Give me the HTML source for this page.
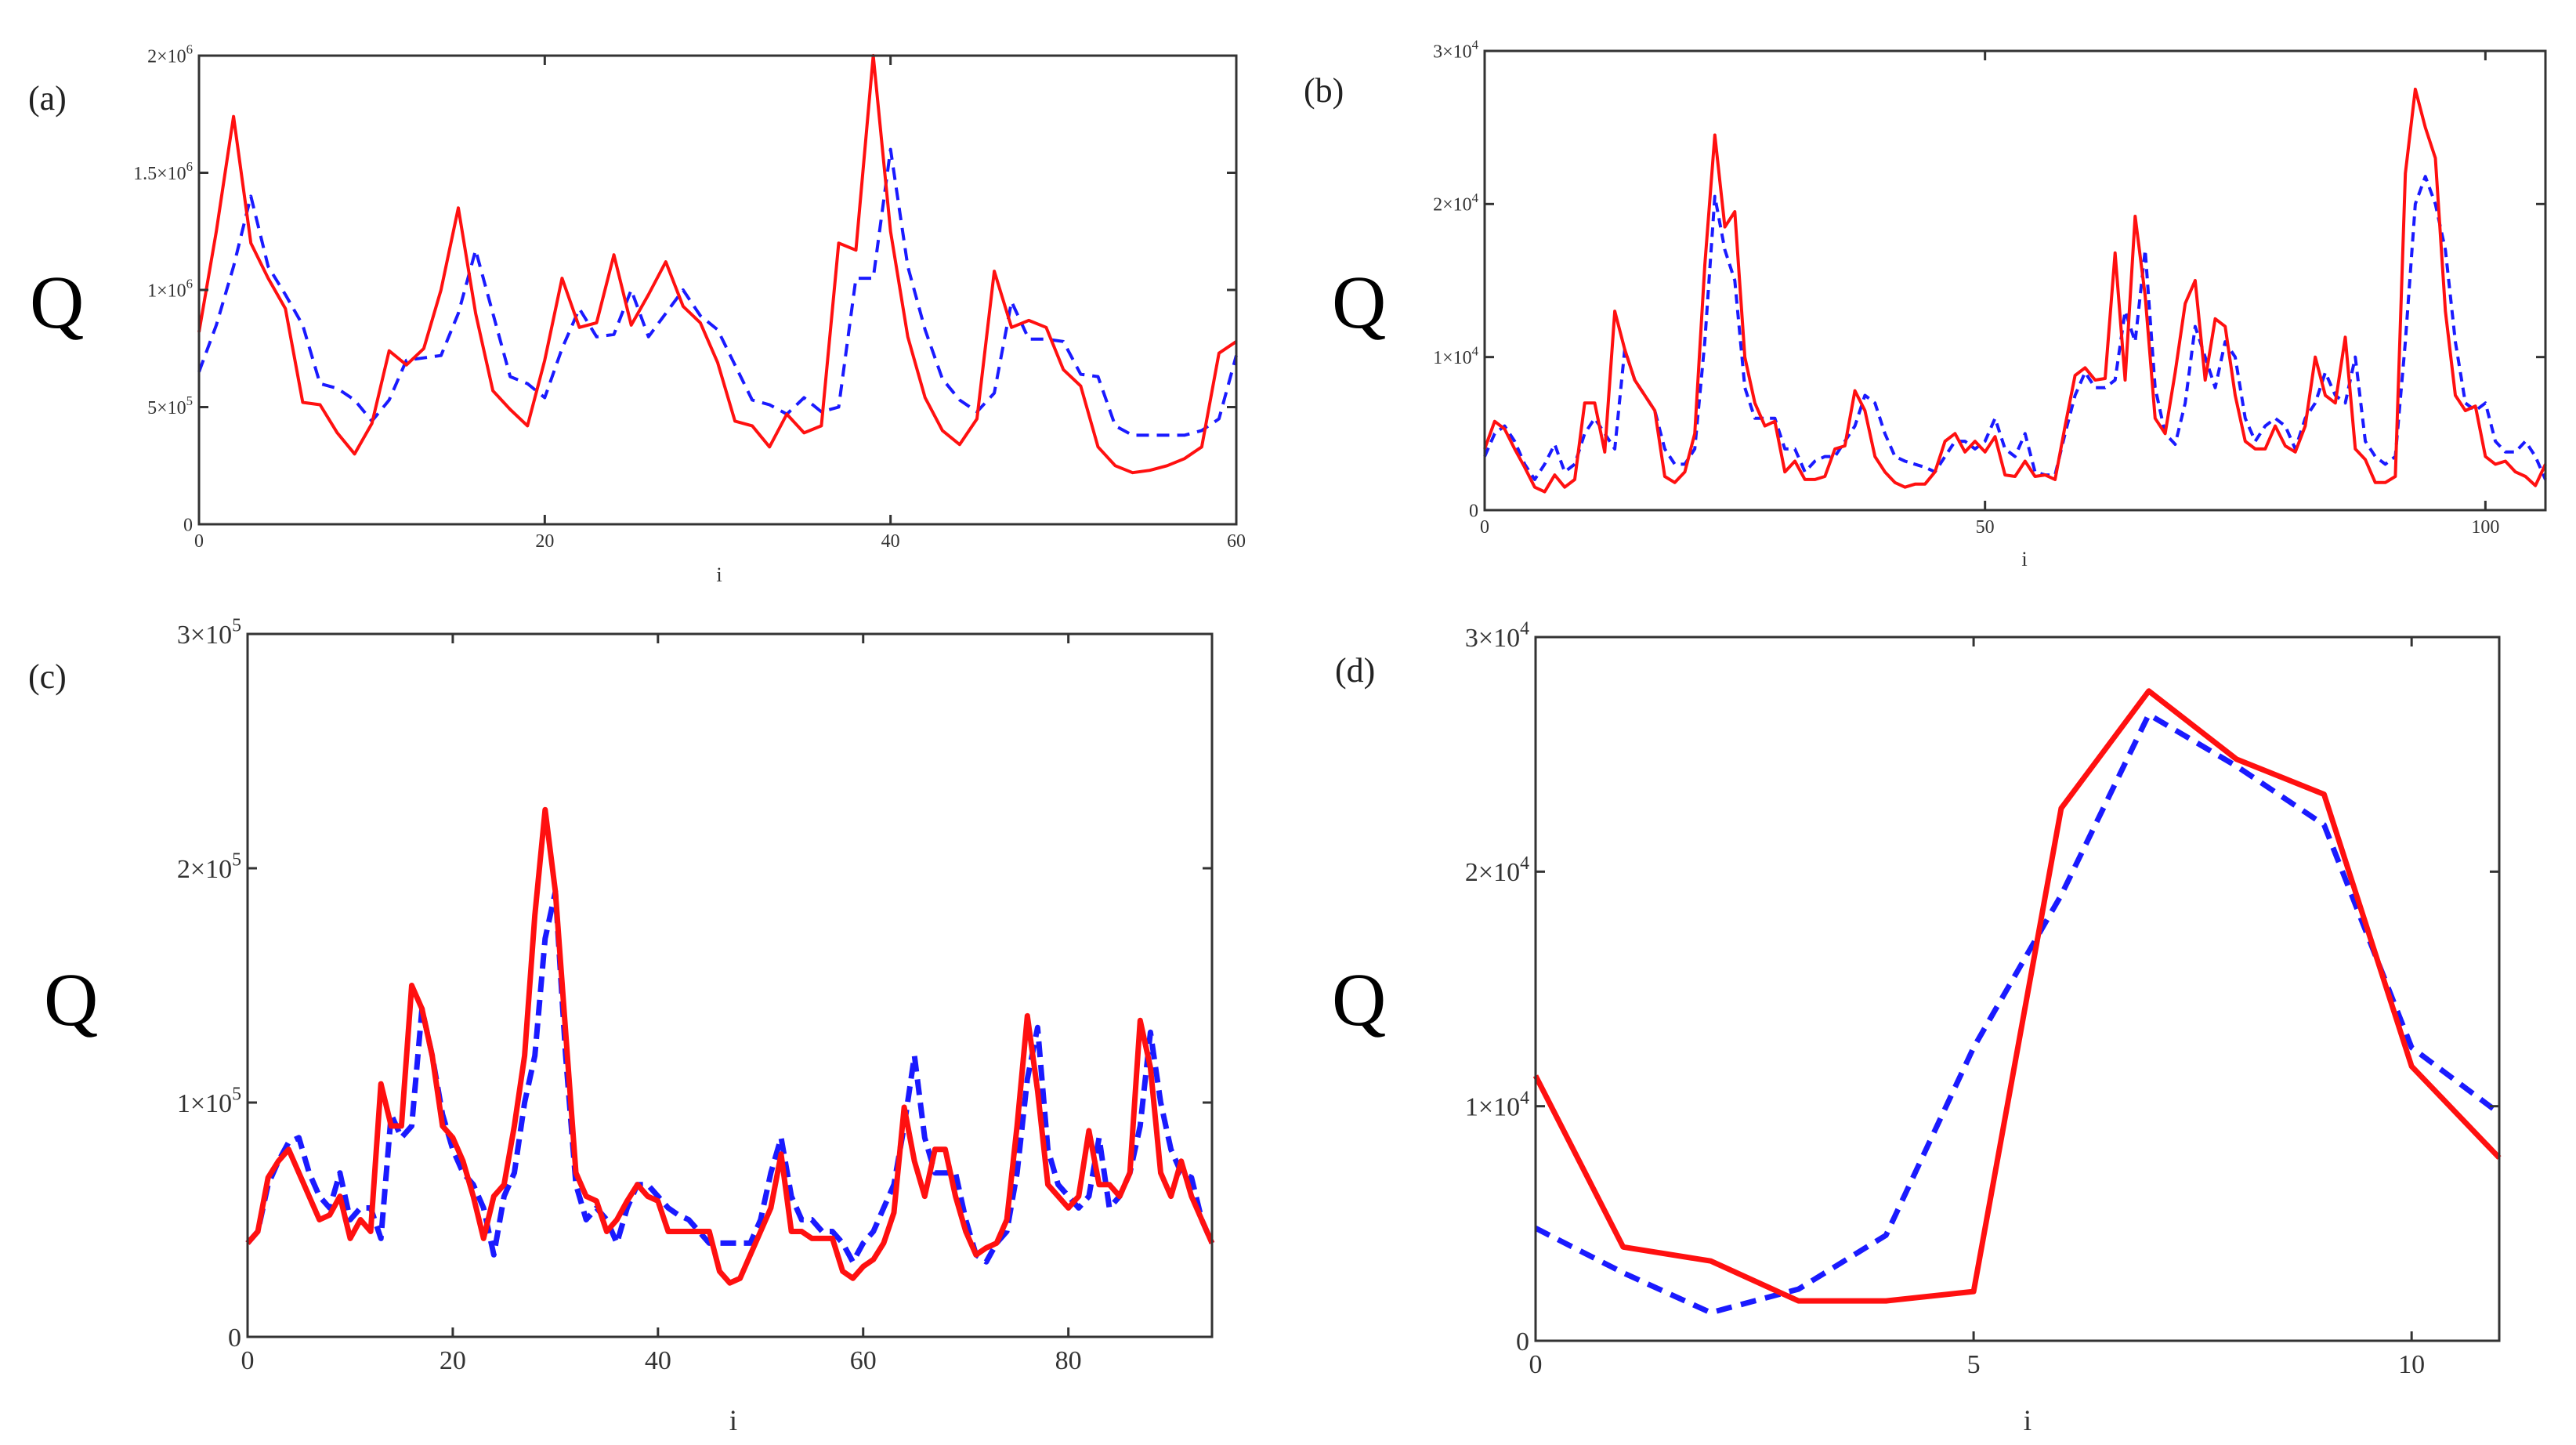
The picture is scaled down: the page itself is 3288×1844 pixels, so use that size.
<!DOCTYPE html>
<html><head><meta charset="utf-8"><style>
html,body{margin:0;padding:0;background:#fff;}
svg{display:block;font-family:"Liberation Serif",serif;}
</style></head><body>
<svg id="fig" width="3288" height="1844" viewBox="0 0 3288 1844" xmlns="http://www.w3.org/2000/svg"></svg>
<script>
// ---- Panel (a) data (x1e5) ----
const aRed = [8.2,12.5,17.4,12,10.5,9.2,5.2,5.1,3.9,3.0,4.3,7.4,6.8,7.5,10,13.5,9,5.7,4.9,4.2,7,10.5,8.4,8.6,11.5,8.5,9.8,11.2,9.3,8.6,6.9,4.4,4.2,3.3,4.7,3.9,4.2,12,11.7,20,12.5,8,5.4,4,3.4,4.5,10.8,8.4,8.7,8.4,6.6,5.9,3.3,2.5,2.2,2.3,2.5,2.8,3.3,7.3,7.8];
const aBlue = [6.5,8.5,11,14,11,9.8,8.5,6,5.8,5.3,4.4,5.3,7,7.1,7.2,9,11.7,9,6.3,6,5.4,7.5,9.2,8,8.1,10,8,9,10,8.9,8.3,6.8,5.3,5.1,4.7,5.4,4.8,5,10.5,10.5,16,11,8.3,6.2,5.3,4.8,5.6,9.5,7.9,7.9,7.8,6.4,6.3,4.2,3.8,3.8,3.8,3.8,4,4.5,7.2];
const aYTicks = [0,5,10,15,20];
const aYLabels = [["0",""],["5×10","5"],["1×10","6"],["1.5×10","6"],["2×10","6"]];
const aXTicks = [0,20,40,60];
// ---- Panel (b) data (x1e3) ----
const bRed = [4,5.8,5.3,4,2.8,1.5,1.2,2.3,1.5,2,7,7,3.8,13,10.5,8.5,7.5,6.5,2.2,1.8,2.5,5,16,24.5,18.5,19.5,10,7,5.5,5.8,2.5,3.2,2,2,2.2,4,4.2,7.8,6.5,3.5,2.5,1.8,1.5,1.7,1.7,2.5,4.5,5,3.8,4.5,3.8,4.8,2.3,2.2,3.2,2.2,2.3,2,5.5,8.8,9.3,8.5,8.6,16.8,8.5,19.2,14,6,5,9,13.5,15,8.5,12.5,12,7.5,4.5,4,4,5.5,4.2,3.8,5.5,10,7.5,7,11.3,4,3.3,1.8,1.8,2.2,22,27.5,25,23,13,7.5,6.5,6.8,3.5,3,3.2,2.5,2.2,1.6,3];
const bBlue = [3.5,5,5.5,4.5,3,2,3,4.3,2.5,3,5,6,5,4,10.5,8.5,7.5,6.5,4,3,3,4,11,20.5,17,15,8,6,6,6,4,4,2.5,3.2,3.5,3.5,4.5,5.5,7.5,7,5,3.5,3.2,3,2.8,2.5,3.5,4.5,4.5,4,4.5,6,4,3.5,5,2.5,2.3,2.3,5,7.5,9,8,8,8.5,13,11,17,8,5,4.3,7,12,10,8,11,10,6,4.5,5.5,6,5.5,4,6,7,9,7.5,7,10,4.5,3.5,3,3.5,11,20,21.8,20,17,11,7,6.5,7,4.5,3.8,3.8,4.5,3.5,2];
const bYTicks = [0,10,20,30];
const bYLabels = [["0",""],["1×10","4"],["2×10","4"],["3×10","4"]];
const bXTicks = [0,50,100];
// ---- Panel (c) data (x1e4) ----
const cRed = [4,4.5,6.8,7.5,8,7,6,5,5.2,6,4.2,5,4.5,10.8,9,9,15,14,12,9,8.5,7.5,6,4.2,6,6.5,9,12,18,22.5,19,13,7,6,5.8,4.5,5,5.8,6.5,6,5.8,4.5,4.5,4.5,4.5,4.5,2.8,2.3,2.5,3.5,4.5,5.5,7.8,4.5,4.5,4.2,4.2,4.2,2.8,2.5,3,3.3,4,5.3,9.8,7.5,6,8,8,6,4.5,3.5,3.8,4,5,9,13.7,10.5,6.5,6,5.5,6,8.8,6.5,6.5,6,7,13.5,11.5,7,6,7.5,6,5,4];
const cBlue = [4,4.5,6.5,7.5,8.3,8.5,7,6,5.5,7,5,5.5,5.5,4.2,9.5,8.5,9,14,12,9.5,8,7,6.5,5.5,3.5,6,7,10,12,17,19,12,6.5,5,5.5,5,4,5.5,6.5,6.5,6,5.5,5.2,5,4.5,4,4,4,4,4,5,7,8.5,6,5,5,4.5,4.5,4,3.2,4,4.5,5.5,6.5,9,12,8.5,7,7,7,5,3.5,3.2,4,4.5,7,11,13.2,8,6.5,6,5.5,6,8.5,5.5,6,7,9,13,10,8,7,6.8,5,4];
const cYTicks = [0,10,20,30];
const cYLabels = [["0",""],["1×10","5"],["2×10","5"],["3×10","5"]];
const cXTicks = [0,20,40,60,80];
// ---- Panel (d) data (x1e3) ----
const dRed = [11.3,4,3.4,1.7,1.7,2.1,22.7,27.7,24.8,23.3,11.7,7.8];
const dBlue = [4.8,2.9,1.2,2.2,4.5,12.5,19,26.7,24.5,22,12.5,9.7];
const dYTicks = [0,10,20,30];
const dYLabels = [["0",""],["1×10","4"],["2×10","4"],["3×10","4"]];
const dXTicks = [0,5,10];

const NS = "http://www.w3.org/2000/svg";
const svg = document.getElementById("fig");
function mk(tag, attrs, parent){
  const e = document.createElementNS(NS, tag);
  for (const k in attrs) e.setAttribute(k, attrs[k]);
  (parent||svg).appendChild(e);
  return e;
}

function panel(id, box, xmax, ymax, red, blue, yTicks, yLabels, xTicks, opt){
  const g = mk("g", {});
  
  
  const xs = v => box.l + (v / xmax) * (box.r - box.l);
  const ys = v => box.b - (v / ymax) * (box.b - box.t);
  // series
  const pts = arr => arr.map((v,i)=>xs(i).toFixed(1)+","+ys(v).toFixed(1)).join(" ");
  const bl = mk("polyline", {points: pts(blue), fill:"none", stroke:"#1a1aff", "stroke-width":opt.bw, "stroke-dasharray":opt.dash, "stroke-linejoin":"round"}, g);
  
  
  const rl = mk("polyline", {points: pts(red), fill:"none", stroke:"#ff1010", "stroke-width":opt.rw, "stroke-linejoin":"round"}, g);
  
  
  // frame
  const fr = mk("rect", {x:box.l, y:box.t, width:box.r-box.l, height:box.b-box.t, fill:"none", stroke:"#333", "stroke-width":3}, g);
  
  
  // y ticks
  yTicks.forEach((t,k)=>{
    const y = ys(t);
    mk("line",{x1:box.l,y1:y,x2:box.l+12,y2:y,stroke:"#333","stroke-width":3},g);
    mk("line",{x1:box.r,y1:y,x2:box.r-12,y2:y,stroke:"#333","stroke-width":3},g);
    const tx = mk("text",{x:box.l-8,y:y+opt.fs*0.35,"text-anchor":"end","font-size":opt.fs,fill:"#333"},g);
    
    
    tx.textContent = yLabels[k][0];
    if (yLabels[k][1]) {
      const sp = mk("tspan",{dy:-opt.fs*0.45,"font-size":opt.fs*0.7},tx);
      sp.textContent = yLabels[k][1];
    }
  });
  // x ticks
  xTicks.forEach(t=>{
    const x = xs(t);
    mk("line",{x1:x,y1:box.b,x2:x,y2:box.b-12,stroke:"#333","stroke-width":3},g);
    mk("line",{x1:x,y1:box.t,x2:x,y2:box.t+12,stroke:"#333","stroke-width":3},g);
    const tx = mk("text",{x:x,y:box.b+opt.fs*1.2,"text-anchor":"middle","font-size":opt.fs,fill:"#333"},g);
    
    
    tx.textContent = String(t);
  });
  // labels
  const pl = mk("text",{x:opt.lab[0],y:opt.lab[1],"font-size":44,fill:"#222"},g);
  
  
  pl.textContent = "(" + id + ")";
  const q = mk("text",{x:opt.q[0],y:opt.q[1],"font-size":96,fill:"#000"},g);
  
  
  q.textContent = "Q";
  const xi = mk("text",{x:opt.i[0],y:opt.i[1],"font-size":opt.fs*1.1,"text-anchor":"middle",fill:"#333"},g);
  
  
  xi.textContent = "i";
}

panel("a",{l:254,r:1578,t:71,b:669},60,20,aRed,aBlue,aYTicks,aYLabels,aXTicks,
  {rw:4,bw:4,dash:"16,10",fs:24,lab:[36,140],q:[38,418],i:[918,742]});
panel("b",{l:1895,r:3249,t:65,b:651},106,30,bRed,bBlue,bYTicks,bYLabels,bXTicks,
  {rw:4,bw:4,dash:"12,8",fs:24,lab:[1664,130],q:[1700,418],i:[2584,722]});
panel("c",{l:316,r:1547,t:809,b:1706},94,30,cRed,cBlue,cYTicks,cYLabels,cXTicks,
  {rw:7,bw:7,dash:"20,10",fs:34,lab:[36,878],q:[56,1308],i:[936,1825]});
panel("d",{l:1960,r:3190,t:813,b:1711},11,30,dRed,dBlue,dYTicks,dYLabels,dXTicks,
  {rw:7,bw:7,dash:"20,12",fs:34,lab:[1704,870],q:[1700,1308],i:[2588,1825]});
</script>
</body></html>
